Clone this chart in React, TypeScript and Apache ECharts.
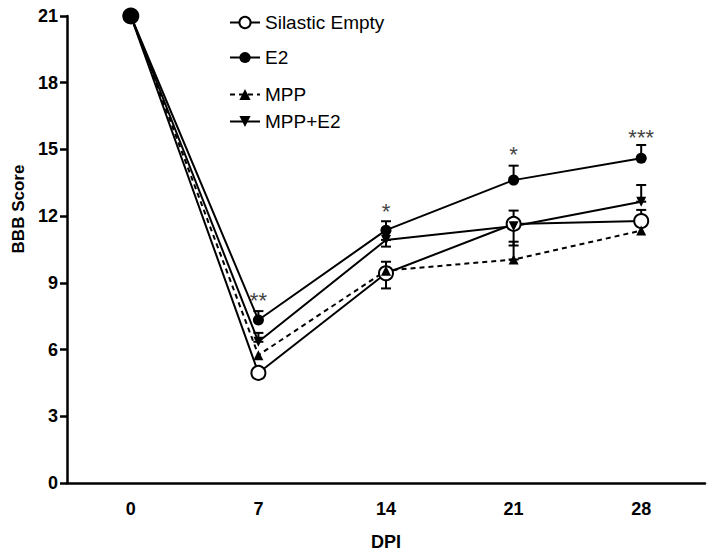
import React, { useEffect, useRef } from "react";
import * as echarts from "echarts";

const days = ["0", "7", "14", "21", "28"];
const yTicks = [0, 3, 6, 9, 12, 15, 18, 21];

const silastic = [21, 4.95, 9.43, 11.65, 11.78];
const silasticUp = [0, 0, 0, 0, 0.5];
const silasticDown = [0, 0, 0.68, 0.97, 0];

const e2 = [21, 7.33, 11.37, 13.62, 14.6];
const e2Up = [0, 0.4, 0.4, 0.65, 0.6];
const e2Down = [0, 0, 0, 0, 0];

const mpp = [21, 5.75, 9.55, 10.05, 11.35];
const mppUp = [0, 0, 0.4, 0.8, 0];
const mppDown = [0, 0, 0, 0, 0];

const mppE2 = [21, 6.35, 10.93, 11.55, 12.65];
const mppE2Up = [0, 0.4, 0, 0.7, 0.75];
const mppE2Down = [0, 0, 0.3, 0, 0];

const sigLabels = ["", "**", "*", "*", "***"];
const sigY = [0, 8.2, 12.2, 14.75, 15.55];

const FONT = "'Liberation Sans', Arial, sans-serif";

function errData(vals: number[], up: number[], down: number[]) {
  return vals
    .map((v, i) => [i, v - down[i], v + up[i]])
    .filter((d) => d[2] - d[1] > 0);
}

function errSeries(vals: number[], up: number[], down: number[]) {
  return {
    type: "custom",
    data: errData(vals, up, down),
    encode: { x: 0, y: [1, 2] },
    z: 3,
    silent: true,
    renderItem: (params: any, api: any) => {
      const x = api.value(0);
      const lo = api.coord([x, api.value(1)]);
      const hi = api.coord([x, api.value(2)]);
      const w = 5;
      const style = { stroke: "#000", lineWidth: 2 };
      return {
        type: "group",
        children: [
          { type: "line", shape: { x1: lo[0], y1: lo[1], x2: hi[0], y2: hi[1] }, style },
          { type: "line", shape: { x1: hi[0] - w, y1: hi[1], x2: hi[0] + w, y2: hi[1] }, style },
          { type: "line", shape: { x1: lo[0] - w, y1: lo[1], x2: lo[0] + w, y2: lo[1] }, style },
        ],
      };
    },
  };
}

export default function App() {
  const ref = useRef<HTMLDivElement>(null);
  useEffect(() => {
    if (!ref.current) return;
    const chart = echarts.init(ref.current, null, { renderer: "svg" });
    const legendBase = {
      left: 229,
      padding: 0,
      orient: "vertical",
      itemWidth: 30,
      itemHeight: 14,
      itemGap: 5,
      selectedMode: false,
      textStyle: { fontFamily: FONT, fontSize: 19, color: "#000" },
    };
    const lineBase = {
      type: "line",
      z: 4,
      lineStyle: { color: "#000", width: 2 },
      itemStyle: { color: "#000" },
    };
    const sigItems = sigLabels.map((s, i) => [i, sigY[i], s]).filter((d) => d[2] !== "");
    chart.setOption({
      animation: false,
      backgroundColor: "#fff",
      grid: { left: 67, right: 9, top: 16, bottom: 71, containLabel: false, outerBoundsMode: "none" },
      legend: [
        { ...legendBase, top: 13, data: ["Silastic Empty"] },
        { ...legendBase, top: 48, data: ["E2"] },
        { ...legendBase, top: 85, data: ["MPP"] },
        { ...legendBase, top: 112, data: ["MPP+E2"] },
      ],
      xAxis: {
        type: "category",
        data: days,
        boundaryGap: true,
        name: "DPI",
        nameLocation: "middle",
        nameGap: 50,
        nameTextStyle: { fontFamily: FONT, fontSize: 18, fontWeight: "bold", color: "#000" },
        axisLine: { lineStyle: { color: "#000", width: 2.5 } },
        axisTick: { alignWithLabel: true, length: 7, lineStyle: { color: "#000", width: 2.5 } },
        axisLabel: { fontFamily: FONT, fontSize: 18, fontWeight: "bold", color: "#000", margin: 17 },
        splitLine: { show: false },
      },
      yAxis: {
        type: "value",
        min: yTicks[0],
        max: yTicks[yTicks.length - 1],
        interval: 3,
        axisLine: { show: true, lineStyle: { color: "#000", width: 2.5 } },
        axisTick: { show: true, length: 7, lineStyle: { color: "#000", width: 2.5 } },
        axisLabel: { fontFamily: FONT, fontSize: 18, fontWeight: "bold", color: "#000", margin: 9 },
        splitLine: { show: false },
      },
      graphic: [
        {
          type: "text",
          x: 18,
          y: 209,
          rotation: Math.PI / 2,
          style: {
            text: "BBB Score",
            font: `bold 17px ${FONT}`,
            fill: "#000",
            align: "center",
            verticalAlign: "middle",
          },
        },
      ],
      series: [
        {
          ...lineBase,
          name: "Silastic Empty",
          data: silastic,
          symbol: "circle",
          symbolSize: 14,
          itemStyle: { color: "#fff", borderColor: "#000", borderWidth: 2 },
        },
        {
          ...lineBase,
          name: "E2",
          data: e2,
          symbol: "circle",
          symbolSize: (v: any, p: any) => (p.dataIndex === 0 ? 17 : 11),
        },
        {
          ...lineBase,
          name: "MPP",
          data: mpp,
          symbol: "triangle",
          symbolSize: 10,
          lineStyle: { color: "#000", width: 2, type: [5, 4] },
        },
        {
          ...lineBase,
          name: "MPP+E2",
          data: mppE2,
          symbol: "triangle",
          symbolRotate: 180,
          symbolSize: 10,
        },
        errSeries(silastic, silasticUp, silasticDown),
        errSeries(e2, e2Up, e2Down),
        errSeries(mpp, mppUp, mppDown),
        errSeries(mppE2, mppE2Up, mppE2Down),
        {
          type: "custom",
          silent: true,
          data: sigItems,
          encode: { x: 0, y: 1 },
          renderItem: (params: any, api: any) => {
            const p = api.coord([api.value(0), api.value(1)]);
            return {
              type: "text",
              x: p[0],
              y: p[1],
              style: {
                text: String(sigItems[params.dataIndex][2]),
                font: `22px ${FONT}`,
                fill: "#444",
                align: "center",
                verticalAlign: "middle",
              },
            };
          },
        },
      ],
    });
    return () => chart.dispose();
  }, []);
  return <div ref={ref} style={{ width: 714, height: 554, position: "absolute", left: 0, top: 0 }} />;
}
